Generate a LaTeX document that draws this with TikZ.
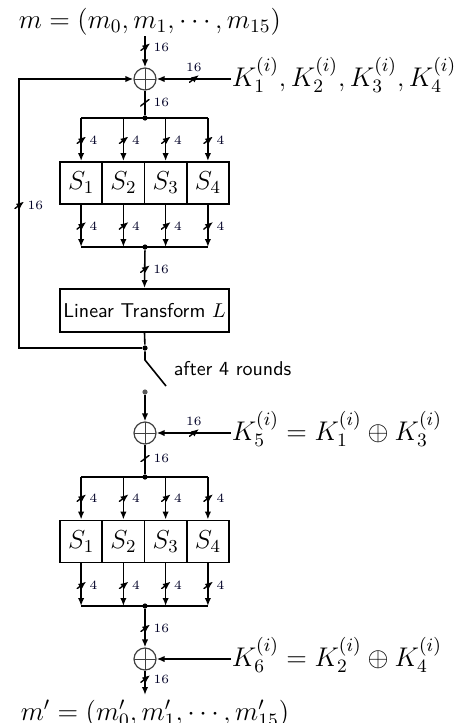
\RequirePackage{fix-cm}
\documentclass[tikz,border=0pt]{standalone}
\usetikzlibrary{arrows.meta}
\newcommand{\bigmath}{\fontsize{13.5}{16}\selectfont}
\begin{document}
\begin{tikzpicture}[x=0.5pt,y=-0.5pt,
  >={Latex[length=4pt,width=3.2pt]},
  every path/.style={line width=0.8pt},
  xorc/.style={circle, draw=black!75, line width=0.6pt, minimum size=11pt, inner sep=0pt,
    path picture={\draw[line width=0.5pt] (path picture bounding box.north) -- (path picture bounding box.south)
      (path picture bounding box.west) -- (path picture bounding box.east);}},
  sbox/.style={draw, line width=0.9pt, minimum width=21.125pt, minimum height=21pt, inner sep=0pt, font=\fontsize{13}{15}\selectfont},
  lbox/.style={draw, line width=0.9pt, minimum width=84.5pt, minimum height=21.5pt, inner sep=0pt, font=\sffamily},
  dot/.style={circle, fill, draw=none, inner sep=0pt, minimum size=2.6pt},
  tk/.style={inner sep=0pt, minimum width=4.6pt, minimum height=3.4pt, draw=none,
    path picture={\draw[line width=0.7pt] ([shift={(-0.3pt,-0.3pt)}]path picture bounding box.south west) -- ([shift={(0.3pt,0.3pt)}]path picture bounding box.north east);}},
  lbl/.style={font=\fontsize{6.3}{7}\selectfont, text=black!85!blue, inner sep=0.6pt, label distance=0.6pt},
  bigtxt/.style={anchor=base west, inner sep=0pt, font=\bigmath}
]
\useasboundingbox (0,0) rectangle (466,723);

% ---------- top ----------
\node[bigtxt] (mtop) at (18,28) {$m = (m_0, m_1, \cdots, m_{15})$};
\node[xorc] (x1) at (145,79) {};
\coordinate (mstart) at (145,36);
\draw[->] (mstart) -- node[tk, pos=0.36, label={[lbl]right:16}] {} (x1.north);

\node[bigtxt] (k1) at (231,86) {$K_1^{(i)}, K_2^{(i)}, K_3^{(i)}, K_4^{(i)}$};
\draw[->] (x1.east -| k1.west) -- node[tk, pos=0.5, label={[lbl]above:16}] {} (x1.east);

\node[dot] (j1) at (145,118) {};
\draw (x1.south) -- node[tk, pos=0.5, label={[lbl]right:16}] {} (j1);

% ---------- first S-box layer ----------
\node[sbox] (s11) at (81.1,183) {$S_1$};
\node[sbox] (s12) at (123.4,183) {$S_2$};
\node[sbox] (s13) at (165.6,183) {$S_3$};
\node[sbox] (s14) at (207.9,183) {$S_4$};
\draw (s11.north |- j1) -- (s14.north |- j1);
\foreach \s in {s11,s12,s13,s14}{
  \draw[->] (\s.north |- j1) -- node[tk, pos=0.52, label={[lbl]right:4}] {} (\s.north);
}
\node[dot] (j2) at (145,247) {};
\foreach \s in {s11,s12,s13,s14}{
  \draw[->] (\s.south) -- node[tk, pos=0.5, label={[lbl]right:4}] {} (\s.south |- j2);
}
\draw (s11.south |- j2) -- (s14.south |- j2);

% ---------- linear transform ----------
\node[lbox] (L) at (144.5,310.5) {Linear Transform $L$};
\draw[->] (j2) -- node[tk, pos=0.5, label={[lbl]right:16}] {} (L.north);
\node[dot] (j3) at (145,348) {};
\draw (L.south) -- (j3);

% feedback
\coordinate (fbb) at (19,348);
\coordinate (fbt) at (19,79);
\draw[->] (j3) -- (fbb) -- node[tk, pos=0.53, label={[lbl]right:16}] {} (fbt) -- (x1.west);

% switch
\coordinate (sw1) at (145,360);
\coordinate (sw2) at (166,386);
\draw (j3) -- (sw1) -- (sw2);
\node[anchor=west, inner sep=0pt, font=\sffamily] (after) at (173,369) {after 4 rounds};
\node[dot, fill=black!65] (j4) at (145,392) {};

% ---------- second part ----------
\node[xorc] (x2) at (145,433) {};
\draw[->] (j4) -- (x2.north);
\node[bigtxt] (k5) at (231,440) {$K_5^{(i)} = K_1^{(i)} \oplus K_3^{(i)}$};
\draw[->] (x2.east -| k5.west) -- node[tk, pos=0.5, label={[lbl]above:16}] {} (x2.east);

\node[dot] (j5) at (145,477) {};
\draw (x2.south) -- node[tk, pos=0.48, label={[lbl]right:16}] {} (j5);

\node[sbox] (s21) at (81.1,541.5) {$S_1$};
\node[sbox] (s22) at (123.4,541.5) {$S_2$};
\node[sbox] (s23) at (165.6,541.5) {$S_3$};
\node[sbox] (s24) at (207.9,541.5) {$S_4$};
\draw (s21.north |- j5) -- (s24.north |- j5);
\foreach \s in {s21,s22,s23,s24}{
  \draw[->] (\s.north |- j5) -- node[tk, pos=0.5, label={[lbl]right:4}] {} (\s.north);
}
\node[dot] (j6) at (145,606) {};
\foreach \s in {s21,s22,s23,s24}{
  \draw[->] (\s.south) -- node[tk, pos=0.52, label={[lbl]right:4}] {} (\s.south |- j6);
}
\draw (s21.south |- j6) -- (s24.south |- j6);

\node[xorc] (x3) at (145,659) {};
\draw[->] (j6) -- node[tk, pos=0.5, label={[lbl]right:16}] {} (x3.north);
\node[bigtxt] (k6) at (231,666) {$K_6^{(i)} = K_2^{(i)} \oplus K_4^{(i)}$};
\draw[->] (x3.east -| k6.west) -- (x3.east);

\node[bigtxt] (mbot) at (20,720) {$m' = (m'_0, m'_1, \cdots, m'_{15})$};
\coordinate (mend) at (145,695);
\draw[->] (x3.south) -- node[tk, pos=0.35, label={[lbl]right:16}] {} (mend);
\end{tikzpicture}
\end{document}
